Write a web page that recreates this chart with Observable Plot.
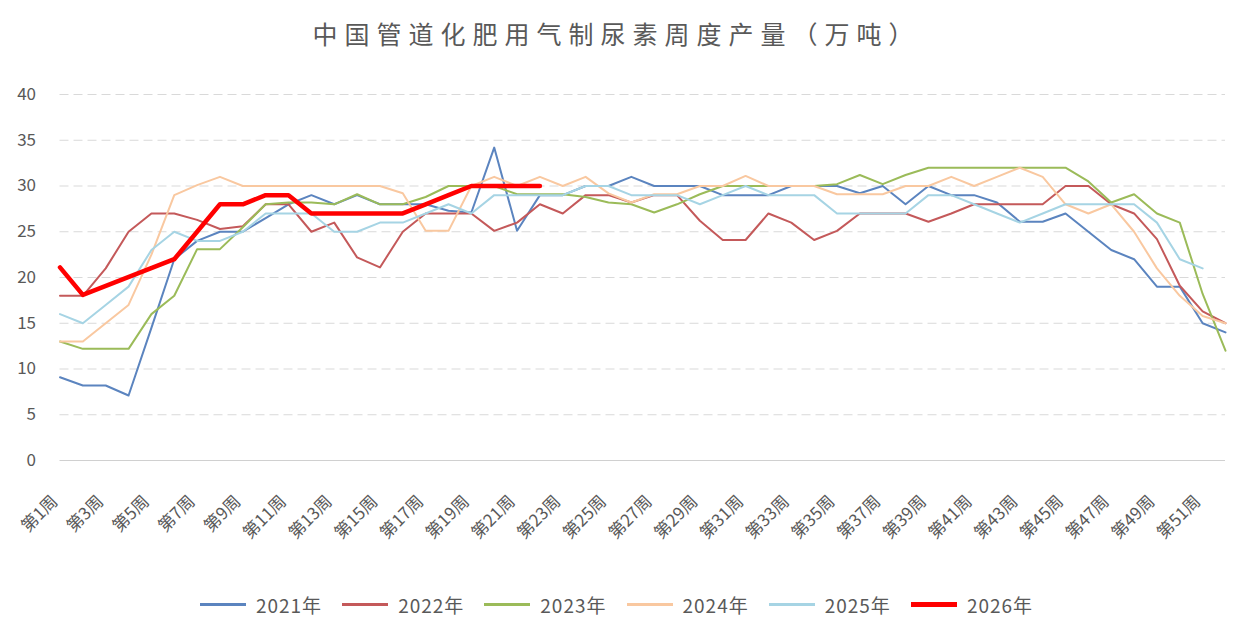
<!DOCTYPE html>
<html><head><meta charset="utf-8">
<script src="https://cdn.jsdelivr.net/npm/d3@7"></script>
<script src="https://cdn.jsdelivr.net/npm/@observablehq/plot@0.6"></script>
<style>
body{margin:0;background:#fff;font-family:"Noto Sans CJK SC","Noto Sans",sans-serif;}
#title{height:65px;line-height:66px;text-align:center;font-size:25px;letter-spacing:7px;color:#595959;white-space:nowrap;}
#chart{height:525px;}
#legend{display:flex;justify-content:center;align-items:center;height:29px;font-size:19px;letter-spacing:1px;color:#595959;}
.item{display:flex;align-items:center;margin:0 10px;}
.item span.sw{display:inline-block;width:46px;margin-right:10px;}
</style></head>
<body>
<div id="title">中国管道化肥用气制尿素周度产量（万吨）</div>
<div id="chart"></div>
<div id="legend"></div>
<script>
const weeks = d3.range(1, 53);
const labelWeeks = d3.range(1, 53, 2);
const yTicks = [0, 5, 10, 15, 20, 25, 30, 35, 40];
const years = ["2021年", "2022年", "2023年", "2024年", "2025年", "2026年"];
const colors = ["#5b84bf", "#c4595a", "#9bbb59", "#f9c8a0", "#a6d4e4", "#ff0000"];
const widths = [2, 2, 2, 2, 2, 4.5];

const v2021 = [9.1, 8.2, 8.2, 7.1, 14.5, 22, 24, 25, 25, 26.5, 28, 29, 28, 29, 28, 28, 28, 27.3, 27.1, 34.2, 25.1, 29, 29, 30, 30, 31, 30, 30, 30, 29, 29, 29, 30, 30, 30, 29.2, 30, 28, 30, 29, 29, 28.2, 26.1, 26.1, 27, 25, 23, 22, 19, 19, 15, 14];
const v2022 = [18, 18, 21, 25, 27, 27, 26.3, 25.3, 25.6, 28, 28, 25, 26, 22.2, 21.1, 25, 27, 27, 27, 25.1, 26, 28, 27, 29, 29, 28.2, 29, 29, 26.2, 24.1, 24.1, 27, 26, 24.1, 25.1, 27, 27, 27, 26.1, 27, 28, 28, 28, 28, 30, 30, 28, 27, 24.2, 19.1, 16.3, 15];
const v2023 = [13, 12.2, 12.2, 12.2, 16, 18, 23.1, 23.1, 25.5, 28, 28.2, 28.2, 28, 29.1, 28, 28, 28.8, 30, 30, 30, 29.1, 29.1, 29.1, 28.8, 28.2, 28, 27.1, 28, 29.1, 30, 30, 30, 30, 30, 30.2, 31.2, 30.2, 31.2, 32, 32, 32, 32, 32, 32, 32, 30.5, 28.2, 29.1, 27, 26, 18.2, 12];
const v2024 = [13, 13, 15, 17, 22.5, 29, 30.1, 31, 30, 30, 30, 30, 30, 30, 30, 29.2, 25.1, 25.1, 30, 31, 30, 31, 30, 31, 29.2, 28.2, 29.1, 29.1, 30, 30, 31.1, 30, 30, 30, 29.1, 29.1, 29.1, 30, 30, 31, 30, 31, 32, 31, 28, 27, 28, 25, 21, 18, 15.8, 15];
const v2025 = [16, 15, 17, 19, 23, 25, 24, 24, 25, 27, 27, 27, 25, 25, 26, 26, 27, 28, 27, 29, 29, 29, 29, 30, 30, 29, 29, 29, 28, 29, 30, 29, 29, 29, 27, 27, 27, 27, 29, 29, 28, 27, 26, 27, 28, 28, 28, 28, 26, 22, 21];
const v2026 = [21.1, 18.1, null, null, null, 22, null, 28, 28, 29, 29, 27, 27, 27, 27, 27, 28, 29, 30, 30, 30, 30];

const seriesValues = [v2021, v2022, v2023, v2024, v2025, v2026];

const rows = seriesValues.map((vals, i) =>
  vals.map((v, j) => ({year: years[i], week: weeks[j], value: v})).filter(d => d.value != null)
);

const font = '"Noto Sans CJK SC","Noto Sans",sans-serif';

const chart = Plot.plot({
  width: 1233,
  height: 525,
  marginLeft: 59.5,
  marginRight: 8,
  marginTop: 29,
  marginBottom: 130,
  style: {fontFamily: font, color: "#595959", background: "#fff"},
  x: {type: "linear", domain: [1, 52], axis: null},
  y: {domain: [0, 40], axis: null},
  marks: [
    Plot.ruleY(yTicks.filter(d => d > 0), {stroke: "#d9d9d9", strokeWidth: 1, strokeDasharray: "9,5"}),
    Plot.ruleY([0], {stroke: "#d0d0d0", strokeWidth: 1}),
    Plot.axisY({ticks: yTicks, tickSize: 0, tickPadding: 24, fontSize: 17, fill: "#595959", label: null}),
    Plot.axisX({ticks: labelWeeks, tickFormat: d => `第${d}周`, tickRotate: -45, tickSize: 0, tickPadding: 38, dx: -5, fontSize: 17, fill: "#595959", label: null}),
    ...rows.map((r, i) => Plot.line(r, {x: "week", y: "value", stroke: colors[i], strokeWidth: widths[i], strokeLinejoin: "round"}))
  ]
});
document.getElementById("chart").appendChild(chart);

const legend = document.getElementById("legend");
years.forEach((y, i) => {
  const it = document.createElement("div");
  it.className = "item";
  const sw = document.createElement("span");
  sw.className = "sw";
  sw.style.height = (i === 5 ? 5 : 3) + "px";
  sw.style.background = colors[i];
  const t = document.createElement("span");
  t.textContent = y;
  it.appendChild(sw);
  it.appendChild(t);
  legend.appendChild(it);
});
</script>
</body></html>
